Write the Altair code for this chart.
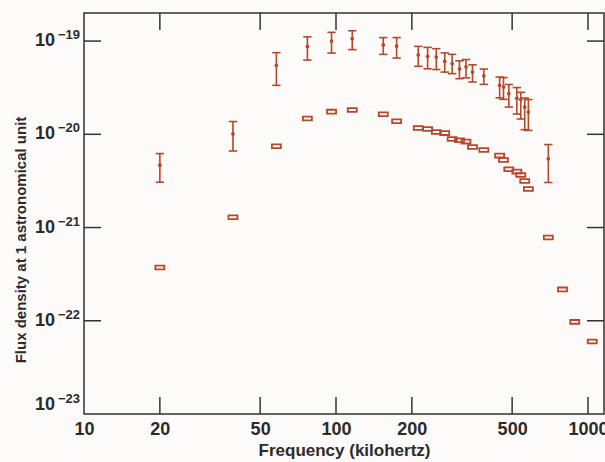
import altair as alt
import pandas as pd

# Upper series (with error bars)
bar_freq = [20, 39, 58, 77, 96, 116, 154, 174, 212, 231, 250, 270, 289, 309, 328,
            348, 386, 446, 462, 485, 522, 541, 561, 580, 696]
bar_mid = [4.66e-21, 1.01e-20, 5.49e-20, 8.77e-20, 1.00e-19, 1.06e-19, 9.1e-20, 8.84e-20,
           7.11e-20, 6.86e-20, 6.74e-20, 6.06e-20, 5.73e-20, 5.04e-20, 5.29e-20, 4.65e-20,
           4.24e-20, 3.35e-20, 3.21e-20, 2.73e-20, 2.43e-20, 2.36e-20, 1.96e-20, 1.73e-20,
           5.46e-21]
bar_hi = [6.21e-21, 1.37e-20, 7.51e-20, 1.11e-19, 1.24e-19, 1.29e-19, 1.09e-19, 1.09e-19,
          8.77e-20, 8.56e-20, 8.29e-20, 7.47e-20, 7.2e-20, 6.14e-20, 6.34e-20, 5.56e-20,
          5.01e-20, 4.11e-20, 4.06e-20, 3.42e-20, 3.17e-20, 2.82e-20, 2.45e-20, 2.36e-20,
          7.76e-21]
bar_lo = [3.06e-21, 6.62e-21, 3.35e-20, 6.25e-20, 7.43e-20, 8.09e-20, 7.2e-20, 6.57e-20,
          5.36e-20, 5.04e-20, 4.95e-20, 4.65e-20, 4.47e-20, 3.95e-20, 4.03e-20, 3.64e-20,
          3.43e-20, 2.46e-20, 2.37e-20, 1.96e-20, 1.65e-20, 1.46e-20, 1.12e-20, 1.10e-20,
          3.04e-21]

# Lower series (open boxes)
box_freq = [20, 39, 58, 77, 96, 116, 154, 174, 212, 231, 250, 270, 289, 309, 328, 348,
            386, 446, 462, 485, 522, 541, 561, 580, 696, 792, 886, 1039]
box_val = [3.73e-22, 1.29e-21, 7.44e-21, 1.48e-20, 1.75e-20, 1.82e-20, 1.64e-20, 1.38e-20,
           1.17e-20, 1.14e-20, 1.06e-20, 1.03e-20, 8.91e-21, 8.63e-21, 8.35e-21, 7.31e-21,
           6.79e-21, 5.91e-21, 5.31e-21, 4.22e-21, 3.98e-21, 3.66e-21, 3.16e-21, 2.59e-21,
           7.83e-22, 2.17e-22, 9.73e-23, 6.0e-23]

x_ticks = [10, 20, 50, 100, 200, 500, 1000]
y_ticks = [1e-23, 1e-22, 1e-21, 1e-20, 1e-19]
y_label_base = ["10", "10", "10", "10", "10"]
y_label_exp = ["\u221223", "\u221222", "\u221221", "\u221220", "\u221219"]
y_title = "Flux density at 1 astronomical unit"
x_title = "Frequency (kilohertz)"

W, H = 520, 401
X_MAX = 10 * 10 ** (W / 252.0)
COLOR = "#b4482a"
INK = "#2b2b2b"
FONT = "Liberation Sans"

bars = pd.DataFrame({"freq": bar_freq, "flux": bar_mid, "hi": bar_hi, "lo": bar_lo})
boxes = pd.DataFrame({"freq": box_freq, "flux": box_val})
xt = pd.DataFrame({"freq": [t for t in x_ticks if t > 10]})
yt = pd.DataFrame({"flux": [t for t in y_ticks if t > 1e-23]})
ylab = pd.DataFrame({"flux": y_ticks, "base": y_label_base, "exp": y_label_exp})
ylab_bottom = ylab[ylab["flux"] == min(y_ticks)]
ylab_rest = ylab[ylab["flux"] != min(y_ticks)]
ttl = pd.DataFrame({"t": [y_title]})

x_scale = alt.Scale(type="log", domain=[10, X_MAX], nice=False)
y_scale = alt.Scale(type="log", domain=[1e-23, 2e-19], nice=False)
x_axis = alt.Axis(values=x_ticks, format="d", title=x_title,
                  ticks=False, domain=False, grid=False, labelFlush=False,
                  labelOverlap=False, labelPadding=6, labelFontSize=18,
                  labelFont=FONT, labelFontWeight="bold", labelColor=INK,
                  titleFont=FONT, titleFontSize=17, titleFontWeight="bold",
                  titleColor=INK, titlePadding=4)
y_axis = alt.Axis(values=y_ticks, labels=False, title=None, ticks=False,
                  domain=False, grid=False)


def xe():
    return alt.X("freq:Q", scale=x_scale, axis=x_axis, title=x_title)


def ye(field="flux"):
    return alt.Y(f"{field}:Q", scale=y_scale, axis=y_axis, title=None)


rules = alt.Chart(bars).mark_rule(color=COLOR, strokeWidth=1.6).encode(
    x=xe(), y=ye("lo"), y2="hi:Q")
cap_shape = "M-1,0H1"
cap_hi = alt.Chart(bars).mark_point(shape=cap_shape, size=70, color=COLOR,
                                    strokeWidth=1.6, filled=False, opacity=1).encode(
    x=xe(), y=ye("hi"))
cap_lo = alt.Chart(bars).mark_point(shape=cap_shape, size=70, color=COLOR,
                                    strokeWidth=1.6, filled=False, opacity=1).encode(
    x=xe(), y=ye("lo"))
dots = alt.Chart(bars).mark_point(shape="circle", size=14, color=COLOR, filled=True,
                                  opacity=1).encode(x=xe(), y=ye())
box_pts = alt.Chart(boxes).mark_point(shape="M-1,-0.42H1V0.42H-1Z", size=81, color=COLOR,
                                      filled=False, strokeWidth=1.8,
                                      opacity=1).encode(x=xe(), y=ye())

tick_color = "#333"
bt = alt.Chart(xt).mark_rule(color=tick_color, strokeWidth=1.5).encode(
    x=xe(), y=alt.value(H), y2=alt.value(H - 17))
tt = alt.Chart(xt).mark_rule(color=tick_color, strokeWidth=1.5).encode(
    x=xe(), y=alt.value(0), y2=alt.value(17))
lt = alt.Chart(yt).mark_rule(color=tick_color, strokeWidth=1.5).encode(
    y=ye(), x=alt.value(0), x2=alt.value(17))
rt = alt.Chart(yt).mark_rule(color=tick_color, strokeWidth=1.5).encode(
    y=ye(), x=alt.value(W - 17), x2=alt.value(W))


def ylabels(df, baseline, dy0):
    base = alt.Chart(df).mark_text(font=FONT, fontSize=18, fontWeight="bold", color=INK,
                                   align="right", baseline=baseline, dy=dy0).encode(
        y=ye(), x=alt.value(-29), text="base:N")
    exp = alt.Chart(df).mark_text(font=FONT, fontSize=13, fontWeight="bold", color=INK,
                                  align="right", baseline=baseline, dy=dy0 - 6).encode(
        y=ye(), x=alt.value(-4), text="exp:N")
    return [base, exp]


yl = ylabels(ylab_rest, "middle", 0) + ylabels(ylab_bottom, "middle", -9)

ytitle = alt.Chart(ttl).mark_text(font=FONT, fontSize=15, fontWeight="bold", color=INK,
                                  angle=270, align="center", baseline="middle").encode(
    x=alt.value(-63), y=alt.value(227), text="t:N")

chart = alt.layer(bt, tt, lt, rt, rules, cap_hi, cap_lo, dots, box_pts, *yl, ytitle
                  ).properties(
    width=W, height=H,
    padding={"left": 84, "top": 13, "right": 1, "bottom": 48},
    autosize=alt.AutoSizeParams(type="none"),
    background="#fdfbf9",
).configure_view(stroke="#333", strokeWidth=1.5)

chart.save("out.html", embed_options={"renderer": "svg", "actions": False})
